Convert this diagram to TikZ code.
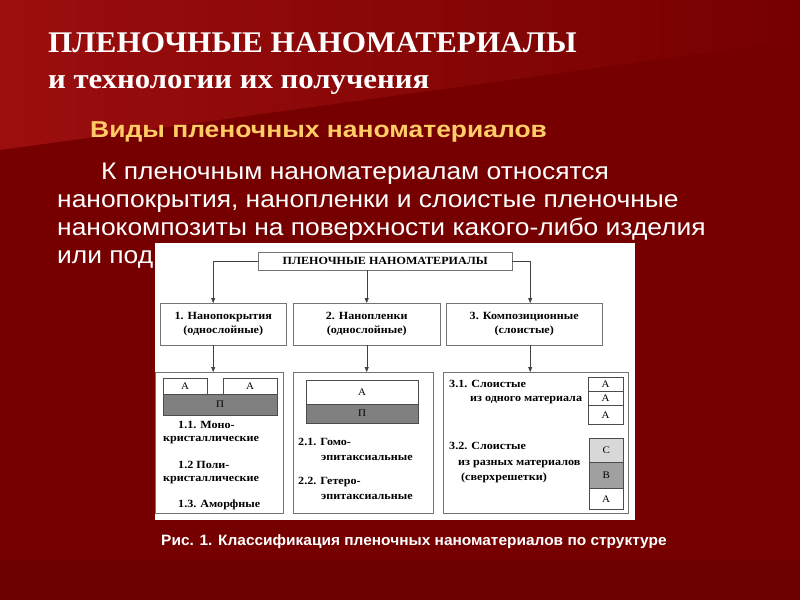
\documentclass[tikz,border=0pt]{standalone}
\usepackage{fontspec}
\setmainfont{Liberation Serif}
\setsansfont{Liberation Sans}
\newfontfamily\titlefont[FakeStretch=1.04]{Liberation Serif}
\newfontfamily\headfont[FakeStretch=1.1]{Liberation Serif}
\newfontfamily\kindsfont[FakeStretch=1.15]{Liberation Sans}
\newfontfamily\bodyfont[FakeStretch=1.1]{Liberation Sans}
\newfontfamily\capfont[FakeStretch=1.03]{Liberation Sans}
\newfontfamily\figfont[FakeStretch=1.1]{Liberation Serif}
\usetikzlibrary{arrows.meta}
\usetikzlibrary{calc}

\definecolor{slidered}{RGB}{118,0,0}
\definecolor{slidelight}{RGB}{155,14,14}
\definecolor{headorange}{RGB}{255,204,102}
\definecolor{layergrey}{RGB}{128,128,128}
\definecolor{layerlight}{RGB}{216,216,216}
\definecolor{layermid}{RGB}{160,160,160}

\tikzset{
	cls/.style={draw=black!55, fill=white, align=center, inner sep=0pt, anchor=north west,
		font=\figfont\bfseries\fontsize{11}{14}\selectfont},
	layer/.style={draw=black!70, inner sep=0pt, anchor=north west, font=\figfont\fontsize{10}{11}\selectfont},
	lbl/.style={anchor=base west, inner sep=0pt, font=\figfont\bfseries\fontsize{11}{12}\selectfont},
	slidetext/.style={anchor=base west, inner sep=0pt, text=white},
	flow/.style={-{Triangle[length=5pt,width=4pt]}, black!75},
}

\begin{document}
\begin{tikzpicture}[x=1pt, y=-1pt]
\useasboundingbox (0,0) rectangle (800,600);
% background of the slide
\fill[slidered] (0,0) rectangle (800,600);
\shade[left color=slidelight, right color=slidered] (0,0) -- (800,0) -- (800,40) -- (0,150) -- cycle;
\fill[slidered!92!black] (0,560) rectangle (800,600);

% headings
\node[slidetext, font=\titlefont\bfseries\fontsize{30}{33}\selectfont] (title) at (48,52) {ПЛЕНОЧНЫЕ НАНОМАТЕРИАЛЫ};
\node[slidetext, font=\headfont\bfseries\fontsize{28}{30}\selectfont] (subtitle) at (48,88) {и технологии их получения};
\node[slidetext, text=headorange, font=\kindsfont\bfseries\fontsize{23}{26}\selectfont] (kinds) at (90,137) {Виды пленочных наноматериалов};

% paragraph
\node[slidetext, font=\bodyfont\fontsize{24}{28}\selectfont] (par1) at (101,179) {К пленочным наноматериалам относятся};
\node[slidetext, font=\bodyfont\fontsize{24}{28}\selectfont] (par2) at (57,207) {нанопокрытия, нанопленки и слоистые пленочные};
\node[slidetext, font=\bodyfont\fontsize{24}{28}\selectfont] (par3) at (57,235) {нанокомпозиты на поверхности какого-либо изделия};
\node[slidetext, font=\bodyfont\fontsize{24}{28}\selectfont] (par4) at (57,263) {или под};

% the figure
\node[fill=white, inner sep=0pt, anchor=north west, minimum width=480, minimum height=277] (fig) at (155,243) {};

\node[cls, minimum width=254, minimum height=18] (top) at (258,252) {ПЛЕНОЧНЫЕ НАНОМАТЕРИАЛЫ};

\node[cls, minimum width=126, minimum height=42] (b1) at (160,303) {1. Нанопокрытия\\(однослойные)};
\node[cls, minimum width=147, minimum height=42] (b2) at (293,303) {2. Нанопленки\\(однослойные)};
\node[cls, minimum width=156, minimum height=42] (b3) at (446,303) {3. Композиционные\\(слоистые)};

\node[cls, minimum width=128, minimum height=141] (c1) at (155,372) {};
\node[cls, minimum width=140, minimum height=141] (c2) at (293,372) {};
\node[cls, minimum width=185, minimum height=141] (c3) at (443,372) {};

\draw[flow] (top.west) -| ([xshift=-10pt]b1.north);
\draw[flow] (top.south -| b2.north) -- (b2.north);
\draw[flow] (top.east) -| ([xshift=6pt]b3.north);
\draw[flow] ([xshift=-10pt]b1.south) -- ([xshift=-10pt]b1.south |- c1.north);
\draw[flow] (b2.south) -- (b2.south |- c2.north);
\draw[flow] ([xshift=6pt]b3.south) -- ([xshift=6pt]b3.south |- c3.north);

% 1. coatings
\node[layer, minimum width=44, minimum height=16] (a11) at (163,378) {А};
\node[layer, minimum width=54, minimum height=16] (a12) at (223,378) {А};
\node[layer, fill=layergrey, minimum width=114, minimum height=21] (p1) at (163,394) {П};
\node[lbl] (t11) at (178,428) {1.1. Моно-};
\node[lbl] (t11b) at (163,441) {кристаллические};
\node[lbl] (t12) at (178,468) {1.2 Поли-};
\node[lbl] (t12b) at (163,481) {кристаллические};
\node[lbl] (t13) at (178,507) {1.3. Аморфные};

% 2. films
\node[layer, minimum width=112, minimum height=24] (a2) at (306,380) {А};
\node[layer, fill=layergrey, minimum width=112, minimum height=19] (p2) at (306,404) {П};
\node[lbl] (t21) at (298,445) {2.1. Гомо-};
\node[lbl] (t21b) at (321,460) {эпитаксиальные};
\node[lbl] (t22) at (298,484) {2.2. Гетеро-};
\node[lbl] (t22b) at (321,499) {эпитаксиальные};

% 3. composites
\node[layer, minimum width=35, minimum height=14] (a31) at (588,377) {А};
\node[layer, minimum width=35, minimum height=14] (a32) at (588,391) {А};
\node[layer, minimum width=35, minimum height=19] (a33) at (588,405) {А};
\node[lbl] (t31) at (449,387) {3.1. Слоистые};
\node[lbl] (t31b) at (470,401) {из одного материала};
\node[layer, fill=layerlight, minimum width=34, minimum height=24] (s3) at (589,438) {С};
\node[layer, fill=layermid, minimum width=34, minimum height=26] (s2) at (589,462) {В};
\node[layer, minimum width=34, minimum height=21] (s1) at (589,488) {А};
\node[lbl] (t32) at (449,449) {3.2. Слоистые};
\node[lbl] (t32b) at (458,465) {из разных материалов};
\node[lbl] (t32c) at (461,480) {(сверхрешетки)};

% caption
\node[slidetext, font=\capfont\bfseries\fontsize{15}{17}\selectfont] (cap) at (161,545) {Рис. 1. Классификация пленочных наноматериалов по структуре};
\end{tikzpicture}
\end{document}
